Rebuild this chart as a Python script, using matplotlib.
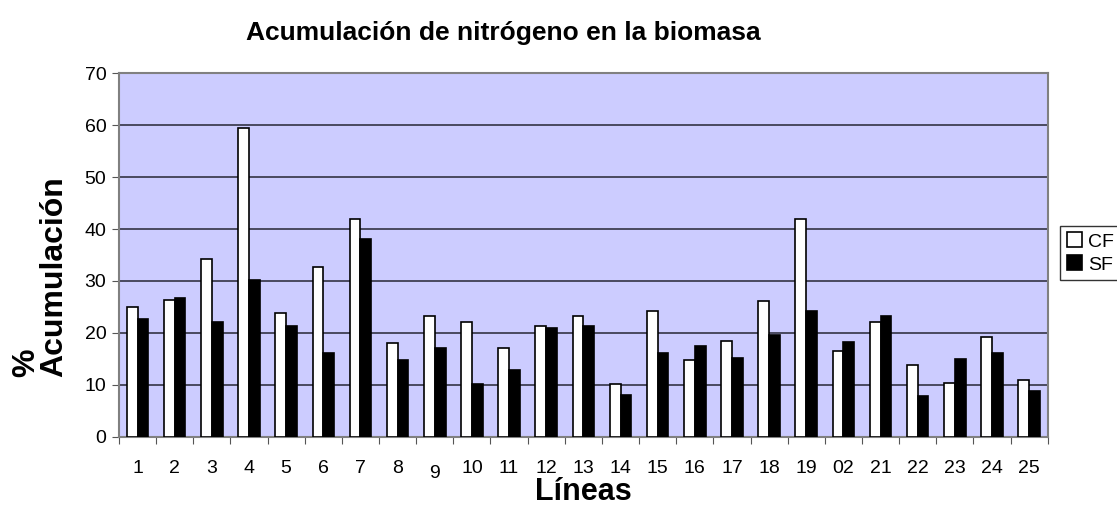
import numpy as np
import matplotlib.pyplot as plt
import matplotlib.transforms as mtransforms

plt.rcParams['font.family'] = ['Liberation Sans', 'DejaVu Sans']

# Datos
lineas = ['1', '2', '3', '4', '5', '6', '7', '8', '9', '10', '11', '12', '13',
          '14', '15', '16', '17', '18', '19', '02', '21', '22', '23', '24', '25']
cf = [24.9, 26.4, 34.2, 59.5, 23.8, 32.7, 41.9, 18.1, 23.3, 22.2, 17.2, 21.3, 23.3,
      10.2, 24.2, 14.7, 18.4, 26.1, 41.9, 16.5, 22.1, 13.8, 10.4, 19.3, 11.0]
sf = [22.6, 26.8, 22.2, 30.1, 21.3, 16.2, 38.0, 14.7, 17.1, 10.1, 12.9, 21.0, 21.3,
      8.1, 16.2, 17.5, 15.1, 19.6, 24.2, 18.2, 23.2, 7.8, 15.0, 16.2, 8.8]

fig = plt.figure(figsize=(11.17, 5.08), dpi=100)
ax = fig.add_axes([0.1065, 0.14, 0.8315, 0.716])
ax.set_facecolor('#ccccff')

x = np.arange(len(lineas))
w = 0.29
ax.bar(x - w/2, cf, w, color='white', edgecolor='black', linewidth=1.2, label='CF', zorder=3)
ax.bar(x + w/2, sf, w, color='black', edgecolor='black', linewidth=1.2, label='SF', zorder=3)

ax.set_xlim(-0.5, len(lineas) - 0.5)
ax.set_ylim(0, 70)
ax.set_yticks(range(0, 71, 10))
ax.yaxis.grid(True, color='#333344', linewidth=1.2, zorder=1)

# ticks entre grupos, etiquetas centradas
ax.set_xticks(np.arange(-0.5, len(lineas), 1.0))
ax.set_xticklabels([])
ax.set_xticks(x, minor=True)
ax.set_xticklabels(lineas, minor=True)
ax.tick_params(axis='x', which='minor', length=0, pad=17, labelsize=14)
ax.tick_params(axis='x', which='major', length=5, color='#555555', direction='out')
ax.tick_params(axis='y', length=5, color='#555555', labelsize=14, pad=4)

# el "9" esta un poco mas abajo
lab9 = ax.get_xticklabels(minor=True)[8]
lab9.set_transform(lab9.get_transform() + mtransforms.ScaledTranslation(0, -3/72, fig.dpi_scale_trans))

for s in ax.spines.values():
    s.set_color('#808080')
    s.set_linewidth(1.5)

fig.text(0.451, 0.935, 'Acumulación de nitrógeno en la biomasa', fontsize=19,
         fontweight='bold', ha='center', va='center')
ax.set_xlabel('Líneas', fontsize=22, fontweight='bold', labelpad=-3)
fig.text(0.036, 0.455, '%\nAcumulación', fontsize=23, fontweight='bold', rotation=90,
         ha='center', va='center', multialignment='left', linespacing=0.95)

leg = fig.legend(loc='center left', bbox_to_anchor=(0.949, 0.502), fontsize=14,
                 frameon=True, fancybox=False, edgecolor='black', handlelength=0.8,
                 handleheight=0.8, handletextpad=0.3, borderpad=0.35, labelspacing=0.25,
                 borderaxespad=0)
leg.get_frame().set_linewidth(1.0)

fig.savefig('out.png', dpi=100)
